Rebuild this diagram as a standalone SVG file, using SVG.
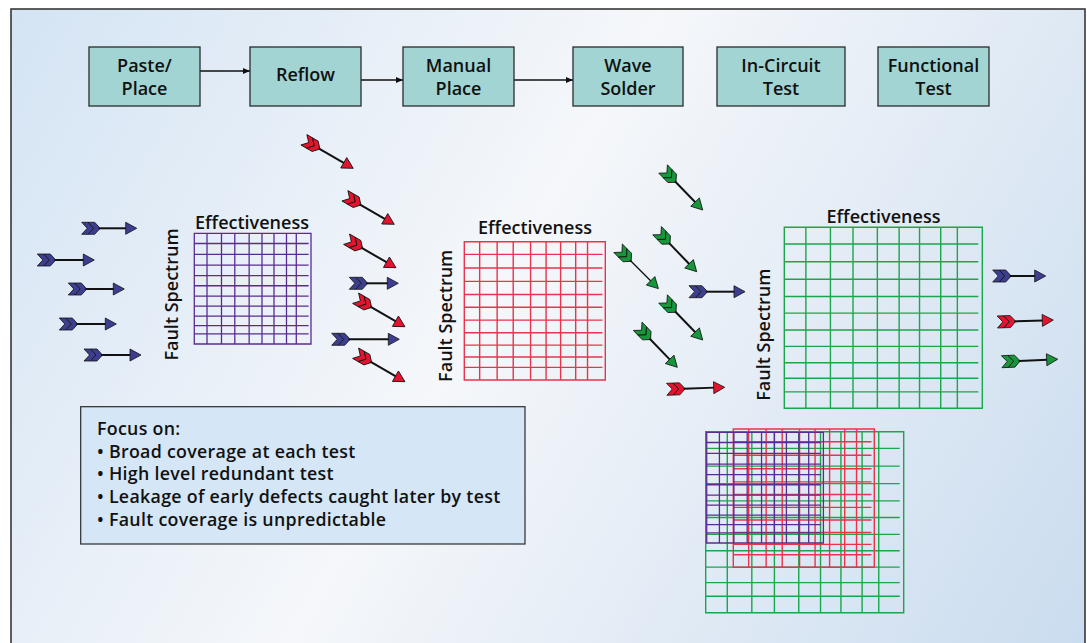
<svg xmlns="http://www.w3.org/2000/svg" xmlns:xlink="http://www.w3.org/1999/xlink" width="1087" height="643" viewBox="0 0 1087 643">
<style>
  .t { font-family: "Open Sans", "Noto Sans", "Liberation Sans", sans-serif; font-weight: 600; fill: #111; }
  .box { fill: #a1d4d2; stroke: #2b2b2b; stroke-width: 1.3; }
  .bt { font-size: 18px; text-anchor: middle; }
  .lab { font-size: 18px; text-anchor: middle; }
  .note { font-size: 17.8px; letter-spacing: 0.3px; }
  .conn { stroke: #111; stroke-width: 1.3; fill: none; }
  .sh { stroke: #111; stroke-width: 2; }
  .thin { stroke-width: 1.3; }
  .fb { fill: #3e3e90; }
  .fr { fill: #e3142e; }
  .fg { fill: #17963b; }
  .gp { stroke: #5b2c90; stroke-width: 1.3; }
  .gr { stroke: #e8344c; stroke-width: 1.4; }
  .gg { stroke: #1aa64a; stroke-width: 1.4; }
</style>
<defs>
  <linearGradient id="bg" gradientUnits="userSpaceOnUse" x1="11" y1="9" x2="1085" y2="643">
    <stop offset="0" stop-color="#d4e4f4"/>
    <stop offset="0.45" stop-color="#f5f7fa"/>
    <stop offset="1" stop-color="#cadcef"/>
  </linearGradient>
  <marker id="ah" markerWidth="8" markerHeight="8" refX="7" refY="4" orient="auto" markerUnits="userSpaceOnUse">
    <path d="M0,1 L7,4 L0,7 Z" fill="#111"/>
  </marker>
  <g id="fl" stroke="#111" stroke-width="0.8" stroke-linejoin="miter">
    <polygon points="0,-6 6.5,-6 12,0 6.5,6 0,6 5.5,0"/>
    <polygon points="6.5,-6 13,-6 18.5,0 13,6 6.5,6 12,0"/>
  </g>
  <polygon id="hd" points="-11,-6 0,0 -11,6" stroke="#111" stroke-width="0.8"/>
  <g id="grid" fill="none">
    <rect x="0" y="0" width="1000" height="1000" vector-effect="non-scaling-stroke"/>
    <path vector-effect="non-scaling-stroke" d="M109 0V1000M233 0V1000M347 0V1000M470 0V1000M580 0V1000M683 0V1000M790 0V1000M874 0V1000M0 92H980M0 190H980M0 287H980M0 382H980M0 474H980M0 567H980M0 658H980M0 748H980M0 834H980M0 909H980"/>
  </g>
</defs>

<rect width="1087" height="643" fill="#ffffff"/>
<rect id="frame" x="11" y="9" width="1074" height="660" fill="url(#bg)" stroke="#2b2b2b" stroke-width="1.5"/>

<g id="connectors">
  <line class="conn" x1="200" y1="71" x2="250" y2="71" marker-end="url(#ah)"/>
  <line class="conn" x1="361" y1="80" x2="403" y2="80" marker-end="url(#ah)"/>
  <line class="conn" x1="514" y1="80" x2="573" y2="80" marker-end="url(#ah)"/>
</g>

<g id="paste-place">
  <rect class="box" x="89" y="47" width="111" height="59"/>
  <text class="t bt" x="144.5" y="72">Paste/</text>
  <text class="t bt" x="144.5" y="94.5">Place</text>
</g>
<g id="reflow">
  <rect class="box" x="250" y="47" width="111" height="59"/>
  <text class="t bt" x="305.5" y="80.5">Reflow</text>
</g>
<g id="manual-place">
  <rect class="box" x="403" y="47" width="111" height="59"/>
  <text class="t bt" x="458.5" y="72">Manual</text>
  <text class="t bt" x="458.5" y="94.5">Place</text>
</g>
<g id="wave-solder">
  <rect class="box" x="573" y="47" width="110" height="59"/>
  <text class="t bt" x="628" y="72">Wave</text>
  <text class="t bt" x="628" y="94.5">Solder</text>
</g>
<g id="in-circuit-test">
  <rect class="box" x="717" y="47" width="128" height="59"/>
  <text class="t bt" x="781" y="72">In-Circuit</text>
  <text class="t bt" x="781" y="94.5">Test</text>
</g>
<g id="functional-test">
  <rect class="box" x="878" y="47" width="111" height="59"/>
  <text class="t bt" x="933.5" y="72">Functional</text>
  <text class="t bt" x="933.5" y="94.5">Test</text>
</g>

<g id="grid-1">
  <text class="t lab" x="252" y="229.3">Effectiveness</text>
  <text class="t lab" transform="translate(178.3,294.5) rotate(-90)">Fault Spectrum</text>
  <use href="#grid" class="gp" transform="translate(194.3,233.3) scale(0.1167,0.1107)"/>
</g>
<g id="grid-2">
  <text class="t lab" x="535" y="234">Effectiveness</text>
  <text class="t lab" transform="translate(452,315.8) rotate(-90)">Fault Spectrum</text>
  <use href="#grid" class="gr" transform="translate(464.3,241.7) scale(0.141,0.1383)"/>
</g>
<g id="grid-3">
  <text class="t lab" x="883.5" y="222.7">Effectiveness</text>
  <text class="t lab" transform="translate(770,334.7) rotate(-90)">Fault Spectrum</text>
  <use href="#grid" class="gg" transform="translate(784.3,227.3) scale(0.198,0.181)"/>
</g>

<g id="grid-overlay">
  <use href="#grid" class="gg" transform="translate(705.7,431.7) scale(0.198,0.181)"/>
  <use href="#grid" class="gr" transform="translate(733.3,429) scale(0.141,0.1383)"/>
  <use href="#grid" class="gp" transform="translate(706.7,432.3) scale(0.1167,0.1107)"/>
</g>

<g id="fault-arrows">
  <g class="fb" transform="translate(81.7,228.3)"><use href="#fl"/><line class="sh" x1="17" y1="0" x2="45" y2="0"/><use href="#hd" x="55"/></g>
  <g class="fb" transform="translate(37.3,260)"><use href="#fl"/><line class="sh" x1="17" y1="0" x2="47" y2="0"/><use href="#hd" x="57"/></g>
  <g class="fb" transform="translate(68.3,289)"><use href="#fl"/><line class="sh" x1="17" y1="0" x2="46" y2="0"/><use href="#hd" x="56"/></g>
  <g class="fb" transform="translate(59.3,324)"><use href="#fl"/><line class="sh" x1="17" y1="0" x2="47" y2="0"/><use href="#hd" x="57"/></g>
  <g class="fb" transform="translate(84,355)"><use href="#fl"/><line class="sh" x1="17" y1="0" x2="47" y2="0"/><use href="#hd" x="57"/></g>
  <g class="fr" transform="translate(303.9,139.8) rotate(30)"><use href="#fl"/><line class="sh" x1="17" y1="0" x2="47" y2="0"/><use href="#hd" x="57"/></g>
  <g class="fr" transform="translate(344.9,195.8) rotate(30)"><use href="#fl"/><line class="sh" x1="17" y1="0" x2="47" y2="0"/><use href="#hd" x="57"/></g>
  <g class="fr" transform="translate(346.6,239.2) rotate(30)"><use href="#fl"/><line class="sh" x1="17" y1="0" x2="47" y2="0"/><use href="#hd" x="57"/></g>
  <g class="fb" transform="translate(349.3,283.3)"><use href="#fl"/><line class="sh" x1="17" y1="0" x2="39" y2="0"/><use href="#hd" x="49"/></g>
  <g class="fr" transform="translate(355.6,298.2) rotate(30)"><use href="#fl"/><line class="sh" x1="17" y1="0" x2="47" y2="0"/><use href="#hd" x="57"/></g>
  <g class="fb" transform="translate(331.7,339.3)"><use href="#fl"/><line class="sh" x1="17" y1="0" x2="57.6" y2="0"/><use href="#hd" x="67.6"/></g>
  <g class="fr" transform="translate(355.6,353.2) rotate(30)"><use href="#fl"/><line class="sh" x1="17" y1="0" x2="47" y2="0"/><use href="#hd" x="57"/></g>
  <g class="fg" transform="translate(663.1,169) rotate(46)"><use href="#fl"/><line class="sh" x1="17" y1="0" x2="47" y2="0"/><use href="#hd" x="57"/></g>
  <g class="fg" transform="translate(657.1,230.7) rotate(46)"><use href="#fl"/><line class="sh" x1="17" y1="0" x2="47" y2="0"/><use href="#hd" x="57"/></g>
  <g class="fg" transform="translate(618.1,248.3) rotate(45)"><use href="#fl"/><line class="sh thin" x1="17" y1="0" x2="47" y2="0"/><use href="#hd" x="57"/></g>
  <g class="fb" transform="translate(689,291.7)"><use href="#fl"/><line class="sh" x1="17" y1="0" x2="46" y2="0"/><use href="#hd" x="56"/></g>
  <g class="fg" transform="translate(663.1,299) rotate(46)"><use href="#fl"/><line class="sh" x1="17" y1="0" x2="47" y2="0"/><use href="#hd" x="57"/></g>
  <g class="fg" transform="translate(637.7,326.3) rotate(46)"><use href="#fl"/><line class="sh" x1="17" y1="0" x2="47" y2="0"/><use href="#hd" x="57"/></g>
  <g class="fr" transform="translate(666.7,389.3) rotate(-2)"><use href="#fl"/><line class="sh" x1="17" y1="0" x2="48" y2="0"/><use href="#hd" x="58"/></g>
  <g class="fb" transform="translate(992.7,276)"><use href="#fl"/><line class="sh" x1="17" y1="0" x2="43" y2="0"/><use href="#hd" x="53"/></g>
  <g class="fr" transform="translate(997.3,322) rotate(-2)"><use href="#fl"/><line class="sh" x1="17" y1="0" x2="46" y2="0"/><use href="#hd" x="56"/></g>
  <g class="fg" transform="translate(1001.7,361.7) rotate(-2.5)"><use href="#fl"/><line class="sh" x1="17" y1="0" x2="46" y2="0"/><use href="#hd" x="56"/></g>
</g>

<g id="focus-note">
  <rect x="80.7" y="406.7" width="444.3" height="137.3" fill="#d5e7f7" stroke="#2b2b2b" stroke-width="1.2"/>
  <text class="t note" x="97" y="435">Focus on:</text>
  <text class="t note" x="97" y="457.5">• Broad coverage at each test</text>
  <text class="t note" x="97" y="480.2">• High level redundant test</text>
  <text class="t note" x="97" y="502.9">• Leakage of early defects caught later by test</text>
  <text class="t note" x="97" y="525.6">• Fault coverage is unpredictable</text>
</g>
</svg>
